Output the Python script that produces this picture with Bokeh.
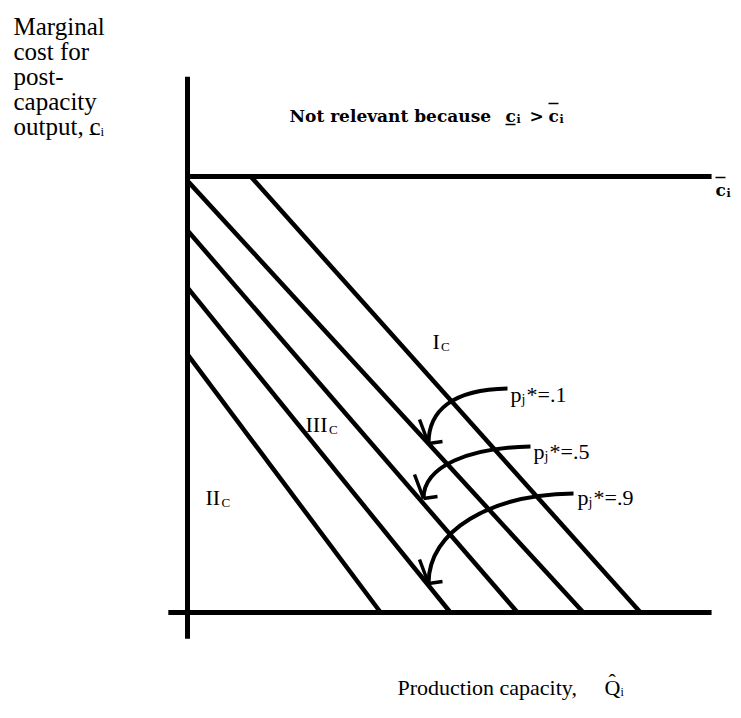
from bokeh.plotting import figure
from bokeh.models import Range1d
from bokeh.embed import file_html
from bokeh.resources import INLINE
from bokeh.core.properties import value

# ---------------- data (diagram units) ----------------
c_bar = 10.0                                          # upper bound of marginal cost
iso_y_intercept = [11.62, 9.90, 8.76, 7.45, 5.92]     # cost intercepts of the iso-lines
iso_x_intercept = [10.39, 9.08, 7.57, 6.03, 4.43]     # capacity intercepts of the iso-lines
p_star_values = [".1", ".5", ".9"]
region_names = ["I", "III", "II"]
x_axis_extent = [-0.44, 12.02]
y_axis_extent = [-0.60, 12.29]

# ---------------- layout helpers ----------------
S = 43.6                 # px per diagram unit
OX, OY = 187.0, 612.0    # position of the origin inside the figure
W, H = 733, 702


def X(px):
    return (px - OX) / S


def Y(py):
    return (OY - py) / S


p = figure(width=W, height=H,
           x_range=Range1d(X(0), X(W)), y_range=Range1d(Y(H), Y(0)),
           output_backend="svg", toolbar_location=None,
           x_axis_type=None, y_axis_type=None, min_border=0,
           outline_line_color=None, background_fill_color="white",
           border_fill_color="white")

# axes
p.segment(x0=[0, x_axis_extent[0]], y0=[y_axis_extent[0], 0],
          x1=[0, x_axis_extent[1]], y1=[y_axis_extent[1], 0],
          line_width=5, line_color="black")
# upper bound line c-bar
p.segment(x0=[0], y0=[c_bar], x1=[x_axis_extent[1]], y1=[c_bar],
          line_width=5, line_color="black")

# iso lines, clipped at c_bar
x0s, y0s, x1s, y1s = [], [], [], []
for yi, xi in zip(iso_y_intercept, iso_x_intercept):
    if yi > c_bar:
        x0s.append(xi * (1 - c_bar / yi)); y0s.append(c_bar)
    else:
        x0s.append(0.0); y0s.append(yi)
    x1s.append(xi); y1s.append(0.0)
p.segment(x0=x0s, y0=y0s, x1=x1s, y1=y1s, line_width=4.5, line_color="black")

# curved arrows (figure px -> diagram units)
arrows = [
    ((507, 388), (452, 389), (428, 410), (428, 443)),
    ((530, 446), (470, 447), (423, 465), (423, 498)),
    ((573, 493), (490, 494), (428, 530), (428, 583)),
]
p.bezier(x0=[X(a[0][0]) for a in arrows], y0=[Y(a[0][1]) for a in arrows],
         cx0=[X(a[1][0]) for a in arrows], cy0=[Y(a[1][1]) for a in arrows],
         cx1=[X(a[2][0]) for a in arrows], cy1=[Y(a[2][1]) for a in arrows],
         x1=[X(a[3][0]) for a in arrows], y1=[Y(a[3][1]) for a in arrows],
         line_width=4, line_color="black")
hx0, hy0, hx1, hy1 = [], [], [], []
for a in arrows:
    tx, ty = a[3]
    for dx, dy in [(-9, -24), (14, -2)]:
        hx0.append(X(tx)); hy0.append(Y(ty))
        hx1.append(X(tx + dx)); hy1.append(Y(ty + dy))
p.segment(x0=hx0, y0=hy0, x1=hx1, y1=hy1, line_width=3.5, line_color="black")


def T(px, py, s, size, font="Liberation Serif", style="normal"):
    p.text(x=[X(px)], y=[Y(py)], text=[s], text_font=value(font),
           text_font_size=f"{size}px", text_font_style=style,
           text_baseline="alphabetic", text_align="left", text_color="black")


def bar(px0, px1, py, w=1.5):
    p.segment(x0=[X(px0)], y0=[Y(py)], x1=[X(px1)], y1=[Y(py)],
              line_width=w, line_color="black")


# y-axis label
for i, s in enumerate(["Marginal", "cost for", "post-", "capacity", "output, "]):
    T(13, 26 + 25 * i, s, 25)
T(89, 126, "c", 25)
bar(89, 99, 134, 1.2)
T(100, 131, "i", 13)

# x-axis label
T(397, 687, "Production capacity,", 22)
T(604, 687, "Q", 22)
T(608, 681, "\u02c6", 22)
T(620, 691, "i", 12)

# title
TF = "DejaVu Serif"
T(289, 115, "Not relevant because", 17, TF, "bold")
T(505, 115, "c", 17, TF, "bold")
bar(505, 515, 124, 1.6)
T(516, 119, "i", 11, TF, "bold")
T(529, 115, ">", 17, TF, "bold")
T(548, 115, "c", 17, TF, "bold")
bar(548, 558, 103, 1.6)
T(559, 119, "i", 11, TF, "bold")

# c-bar label at right
T(715, 189, "c", 17, TF, "bold")
bar(715, 725, 177, 1.6)
T(726, 193, "i", 11, TF, "bold")

# region labels
region_pos = [(432, 341), (305, 424), (205, 497)]
for name, (x, y) in zip(region_names, region_pos):
    T(x, y, name, 22)
    T(x + 7.5 * len(name) + 1, y + 5, "C", 13)

# p* labels
label_pos = [(510, 394), (533, 451), (577, 497)]
for v, (x, y) in zip(p_star_values, label_pos):
    T(x, y, "p", 22)
    T(x + 11, y + 5, "j", 14)
    T(x + 16, y, "*=" + v, 22)

open("out.html", "w").write(file_html(p, INLINE))
